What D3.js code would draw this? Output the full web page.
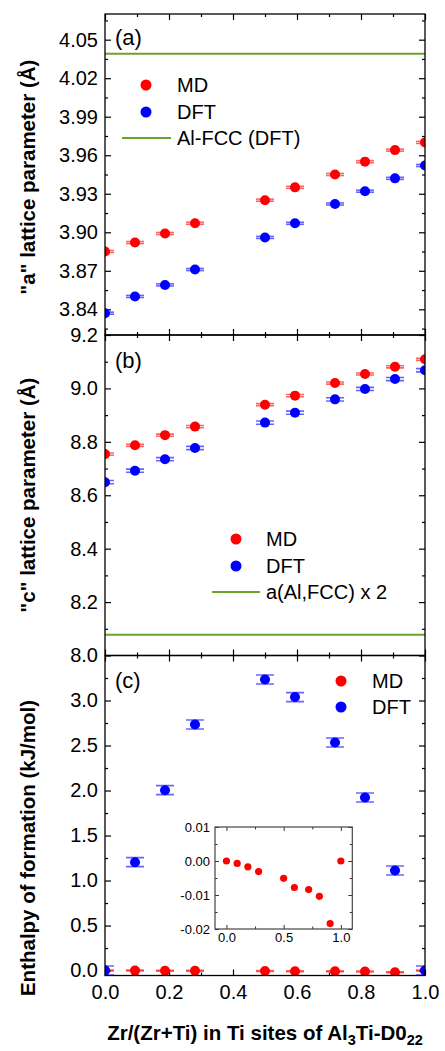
<!DOCTYPE html>
<html>
<head>
<meta charset="utf-8">
<script src="https://cdn.jsdelivr.net/npm/d3@7"></script>
<style>
  body { margin: 0; background: #fff; }
  svg { display: block; }
  text { font-family: "Liberation Sans", Arial, sans-serif; fill: #000; }
</style>
</head>
<body>
<svg id="chart" width="445" height="1051"></svg>
<script>
// composition Zr/(Zr+Ti), same for every series
const xVals = [0, 0.09375, 0.1875, 0.28125, 0.5, 0.59375, 0.71875, 0.8125, 0.90625, 1];

// (a) lattice parameter a
const aMD  = [3.885, 3.892, 3.899, 3.907, 3.925, 3.935, 3.945, 3.955, 3.964, 3.970];
const aDFT = [3.837, 3.850, 3.859, 3.871, 3.896, 3.907, 3.922, 3.932, 3.942, 3.952];
const aErr = 0.0008;
const aFCC = 4.039;

// (b) lattice parameter c
const cMD  = [8.754, 8.787, 8.825, 8.857, 8.939, 8.973, 9.020, 9.054, 9.081, 9.109];
const cDFT = [8.649, 8.692, 8.735, 8.777, 8.872, 8.909, 8.959, 8.998, 9.035, 9.068];
const cErrMD = 0.004, cErrDFT = 0.006;
const cFCC = 8.078;

// (c) enthalpy of formation
const hMD  = [0, -0.0007, -0.0017, -0.0031, -0.0051, -0.0078, -0.0084, -0.0104, -0.0184, 0];
const hDFT = [0, 1.204, 2.004, 2.733, 3.233, 3.038, 2.533, 1.922, 1.111, 0];
const hErrMD = 0.005, hErrDFT = 0.05;

const xTicks = [0, 0.2, 0.4, 0.6, 0.8, 1.0];
const xMinor = [0.1, 0.3, 0.5, 0.7, 0.9];

const RED = "#ff0000", BLUE = "#0000ff", GREEN = "#6ca32b";

const svg = d3.select("#chart");
const X0 = 105, X1 = 425;
const x = d3.scaleLinear().domain([0, 1]).range([X0, X1]);

const panels = [
  { id: "a", top: 14, bottom: 335, domain: [3.82, 4.07],
    major: d3.range(3.84, 4.051, 0.03), minor: d3.range(3.825, 4.07, 0.03), fmt: d3.format(".2f"),
    md: aMD, dft: aDFT, errMD: aErr, errDFT: aErr, ref: aFCC,
    title: '"a" lattice parameter (Å)', titleY: 177,
    label: "(a)", labelY: 45,
    legend: { x: 146, tx: 177, y: [85, 112, 138], refText: "Al-FCC (DFT)", lx: [122, 171] } },
  { id: "b", top: 335, bottom: 655.5, domain: [8.0, 9.2],
    major: d3.range(8.0, 9.21, 0.2), minor: d3.range(8.1, 9.2, 0.2), fmt: d3.format(".1f"),
    md: cMD, dft: cDFT, errMD: cErrMD, errDFT: cErrDFT, ref: cFCC,
    title: '"c" lattice parameter (Å)', titleY: 495,
    label: "(b)", labelY: 368,
    legend: { x: 236, tx: 266, y: [539, 566, 592], refText: "a(Al,FCC) x 2", lx: [212, 260] } },
  { id: "c", top: 655.5, bottom: 975.5, domain: [-0.055, 3.5],
    major: d3.range(0, 3.01, 0.5), minor: d3.range(0.25, 3.5, 0.5), fmt: d3.format(".1f"),
    md: hMD, dft: hDFT, errMD: hErrMD, errDFT: hErrDFT, ref: null,
    title: "Enthalpy of formation (kJ/mol)", titleY: 848,
    label: "(c)", labelY: 688,
    legend: { x: 341, tx: 372, y: [681, 707] } }
];

panels.forEach(p => {
  const y = d3.scaleLinear().domain(p.domain).range([p.bottom, p.top]);
  const g = svg.append("g");

  g.append("clipPath").attr("id", "clip-" + p.id)
    .append("rect").attr("x", X0).attr("y", p.top).attr("width", X1 - X0).attr("height", p.bottom - p.top);

  // axes with inward ticks on all four sides
  const tick = (sel) => sel.call(s => s.select(".domain").remove())
    .call(s => s.selectAll("line").attr("stroke", "#000").attr("stroke-width", 1.2));

  g.append("g").attr("transform", `translate(${X0},0)`)
    .call(d3.axisLeft(y).tickValues(p.major).tickSize(-6).tickPadding(7).tickFormat(p.fmt))
    .call(tick)
    .call(s => s.selectAll("text").style("font-size", "20px").style("font-family", "Liberation Sans, Arial"));
  g.append("g").attr("transform", `translate(${X0},0)`)
    .call(d3.axisLeft(y).tickValues(p.minor).tickSize(-3).tickFormat("")).call(tick);
  g.append("g").attr("transform", `translate(${X1},0)`)
    .call(d3.axisRight(y).tickValues(p.major).tickSize(-6).tickFormat("")).call(tick);
  g.append("g").attr("transform", `translate(${X1},0)`)
    .call(d3.axisRight(y).tickValues(p.minor).tickSize(-3).tickFormat("")).call(tick);

  [[p.top, d3.axisTop], [p.bottom, d3.axisBottom]].forEach(([yy, ax]) => {
    g.append("g").attr("transform", `translate(0,${yy})`)
      .call(ax(x).tickValues(xTicks).tickSize(-6).tickFormat("")).call(tick);
    g.append("g").attr("transform", `translate(0,${yy})`)
      .call(ax(x).tickValues(xMinor).tickSize(-3).tickFormat("")).call(tick);
  });

  const plot = g.append("g").attr("clip-path", `url(#clip-${p.id})`);

  if (p.ref !== null) {
    plot.append("line").attr("x1", X0).attr("x2", X1)
      .attr("y1", y(p.ref)).attr("y2", y(p.ref))
      .attr("stroke", GREEN).attr("stroke-width", 2);
  }

  [[p.md, p.errMD, RED], [p.dft, p.errDFT, BLUE]].forEach(([vals, err, col]) => {
    const pts = vals.map((v, i) => ({ x: xVals[i], y: v }));
    const eb = plot.append("g").attr("stroke", col).attr("stroke-opacity", 0.6).attr("stroke-width", 1.6);
    pts.forEach(d => {
      const cx = x(d.x), y1 = y(d.y + err), y2 = y(d.y - err);
      eb.append("line").attr("x1", cx).attr("x2", cx).attr("y1", y1).attr("y2", y2);
      eb.append("line").attr("x1", cx - 9).attr("x2", cx + 9).attr("y1", y1).attr("y2", y1);
      eb.append("line").attr("x1", cx - 9).attr("x2", cx + 9).attr("y1", y2).attr("y2", y2);
    });
    plot.append("g").selectAll("circle").data(pts).join("circle")
      .attr("cx", d => x(d.x)).attr("cy", d => y(d.y)).attr("r", 5).attr("fill", col);
  });

  // frame
  g.append("rect").attr("x", X0).attr("y", p.top).attr("width", X1 - X0).attr("height", p.bottom - p.top)
    .attr("fill", "none").attr("stroke", "#000").attr("stroke-width", 1.3);

  // panel label
  g.append("text").attr("x", 115).attr("y", p.labelY).style("font-size", "22px").text(p.label);

  // axis title
  g.append("text").attr("transform", `translate(35,${p.titleY}) rotate(-90)`)
    .attr("text-anchor", "middle").style("font-size", "20.5px").style("font-weight", "bold").text(p.title);

  // legend
  const L = p.legend;
  [["MD", RED], ["DFT", BLUE]].forEach(([name, col], i) => {
    g.append("circle").attr("cx", L.x).attr("cy", L.y[i]).attr("r", 5.5).attr("fill", col);
    g.append("text").attr("x", L.tx).attr("y", L.y[i]).attr("dy", "0.36em").style("font-size", "20px").text(name);
  });
  if (L.refText) {
    g.append("line").attr("x1", L.lx[0]).attr("x2", L.lx[1]).attr("y1", L.y[2]).attr("y2", L.y[2])
      .attr("stroke", GREEN).attr("stroke-width", 2);
    g.append("text").attr("x", L.tx).attr("y", L.y[2]).attr("dy", "0.36em").style("font-size", "20px").text(L.refText);
  }

  if (p.id === "c") {
    g.append("g").attr("transform", `translate(0,${p.bottom})`)
      .call(d3.axisBottom(x).tickValues(xTicks).tickSize(0).tickPadding(9.5).tickFormat(d3.format(".1f")))
      .call(s => s.select(".domain").remove())
      .call(s => s.selectAll("text").style("font-size", "20px").style("font-family", "Liberation Sans, Arial"));
  }
});

// inset in panel (c)
const ix = d3.scaleLinear().domain([-0.1, 1.1]).range([215, 352.3]);
const iy = d3.scaleLinear().domain([-0.02, 0.01]).range([929, 827]);
const inset = svg.append("g");
const itick = (sel) => sel.call(s => s.select(".domain").remove())
  .call(s => s.selectAll("line").attr("stroke", "#333").attr("stroke-width", 1));
const hy = s => s.replace("−", "-");
const insetFont = s => s.selectAll("text").style("font-size", "13px").style("font-family", "Liberation Sans, Arial");

inset.append("g").attr("transform", "translate(215,0)")
  .call(d3.axisLeft(iy).tickValues([-0.02, -0.01, 0, 0.01]).tickSize(-4).tickPadding(5).tickFormat(d => hy(d3.format(".2f")(d))))
  .call(itick).call(insetFont);
inset.append("g").attr("transform", "translate(215,0)")
  .call(d3.axisLeft(iy).tickValues([-0.015, -0.005, 0.005]).tickSize(-2.5).tickFormat("")).call(itick);
inset.append("g").attr("transform", "translate(352.3,0)")
  .call(d3.axisRight(iy).tickValues([-0.02, -0.01, 0, 0.01]).tickSize(-4).tickFormat("")).call(itick);
inset.append("g").attr("transform", "translate(352.3,0)")
  .call(d3.axisRight(iy).tickValues([-0.015, -0.005, 0.005]).tickSize(-2.5).tickFormat("")).call(itick);
inset.append("g").attr("transform", "translate(0,929)")
  .call(d3.axisBottom(ix).tickValues([0, 0.5, 1]).tickSize(-4).tickPadding(4).tickFormat(d3.format(".1f")))
  .call(itick).call(insetFont);
inset.append("g").attr("transform", "translate(0,929)")
  .call(d3.axisBottom(ix).tickValues([0.25, 0.75]).tickSize(-2.5).tickFormat("")).call(itick);
inset.append("g").attr("transform", "translate(0,827)")
  .call(d3.axisTop(ix).tickValues([0, 0.5, 1]).tickSize(-4).tickFormat("")).call(itick);
inset.append("g").attr("transform", "translate(0,827)")
  .call(d3.axisTop(ix).tickValues([0.25, 0.75]).tickSize(-2.5).tickFormat("")).call(itick);
inset.append("rect").attr("x", 215).attr("y", 827).attr("width", 137.3).attr("height", 102)
  .attr("fill", "none").attr("stroke", "#444").attr("stroke-width", 1.2);
inset.append("g").selectAll("circle").data(hMD.map((v, i) => ({ x: xVals[i], y: v }))).join("circle")
  .attr("cx", d => ix(d.x)).attr("cy", d => iy(d.y)).attr("r", 3.6).attr("fill", RED);

// x axis title with subscripts
const xt = svg.append("text").attr("x", 265).attr("y", 1040).attr("text-anchor", "middle")
  .style("font-size", "20.5px").style("font-weight", "bold");
xt.append("tspan").text("Zr/(Zr+Ti) in Ti sites of Al");
xt.append("tspan").attr("dy", 5).style("font-size", "14.5px").text("3");
xt.append("tspan").attr("dy", -5).text("Ti-D0");
xt.append("tspan").attr("dy", 5).style("font-size", "14.5px").text("22");
</script>
</body>
</html>
